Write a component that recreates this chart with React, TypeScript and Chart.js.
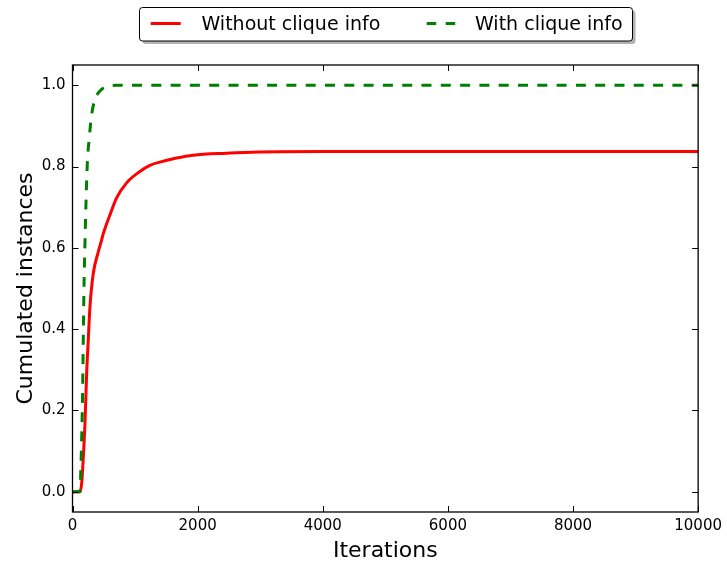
import React, { useEffect, useRef } from "react";
import { Chart, registerables } from "chart.js";

Chart.register(...registerables);

const FONT = '"DejaVu Sans", "Liberation Sans", sans-serif';

const xTicks = [0, 2000, 4000, 6000, 8000, 10000];
const yTicks = [0.0, 0.2, 0.4, 0.6, 0.8, 1.0];
const seriesNames = ["Without clique info", "With clique info"];
const xTitle = "Iterations";
const yTitle = "Cumulated instances";

const withoutIters = [0, 120, 146, 173, 199, 226, 252, 279, 332, 412, 466, 492, 598, 705, 865, 1077, 1237, 1396, 1662, 1928, 2460, 2992, 4000, 10000];
const withoutValues = [0, 0, 0.02, 0.085, 0.167, 0.29, 0.373, 0.455, 0.537, 0.59, 0.62, 0.635, 0.681, 0.723, 0.76, 0.788, 0.803, 0.811, 0.821, 0.828, 0.833, 0.836, 0.837, 0.837];

const withIters = [0, 120, 131, 146, 162, 172, 183, 199, 215, 236, 268, 306, 359, 439, 546, 705, 10000];
const withValues = [0, 0, 0.044, 0.126, 0.25, 0.373, 0.496, 0.61, 0.706, 0.805, 0.871, 0.928, 0.965, 0.986, 0.997, 1.0, 1.0];

const RED = "#ff0000";
const GREEN = "#008000";

const framePlugin = {
  id: "mplFrame",
  afterDatasetsDraw(chart: any) {
    const { ctx, chartArea: a, scales } = chart;
    ctx.save();
    ctx.strokeStyle = "#000";
    ctx.lineWidth = 1;
    ctx.setLineDash([]);
    // inward ticks on all sides
    for (const v of xTicks) {
      const px = Math.round(scales.x.getPixelForValue(v)) + 0.5;
      ctx.beginPath();
      ctx.moveTo(px, a.bottom);
      ctx.lineTo(px, a.bottom - 6);
      ctx.moveTo(px, a.top);
      ctx.lineTo(px, a.top + 6);
      ctx.stroke();
    }
    for (const v of yTicks) {
      const py = Math.round(scales.y.getPixelForValue(v)) + 0.5;
      ctx.beginPath();
      ctx.moveTo(a.left, py);
      ctx.lineTo(a.left + 6, py);
      ctx.moveTo(a.right, py);
      ctx.lineTo(a.right - 6, py);
      ctx.stroke();
    }
    // frame
    ctx.lineWidth = 1.3;
    ctx.strokeRect(a.left, a.top, a.right - a.left, a.bottom - a.top);

    // axis titles
    ctx.fillStyle = "#000";
    ctx.font = `22px ${FONT}`;
    ctx.textAlign = "center";
    ctx.textBaseline = "alphabetic";
    ctx.fillText(xTitle, (a.left + a.right) / 2, 557);
    ctx.save();
    ctx.translate(32, (a.top + a.bottom) / 2);
    ctx.rotate(-Math.PI / 2);
    ctx.fillText(yTitle, 0, 0);
    ctx.restore();

    // legend
    const bx = 139.5, by = 7.5, bw = 493, bh = 33.5;
    const r = 3;
    const roundRect = (x: number, y: number, w: number, h: number) => {
      ctx.beginPath();
      ctx.moveTo(x + r, y);
      ctx.lineTo(x + w - r, y);
      ctx.arcTo(x + w, y, x + w, y + r, r);
      ctx.lineTo(x + w, y + h - r);
      ctx.arcTo(x + w, y + h, x + w - r, y + h, r);
      ctx.lineTo(x + r, y + h);
      ctx.arcTo(x, y + h, x, y + h - r, r);
      ctx.lineTo(x, y + r);
      ctx.arcTo(x, y, x + r, y, r);
      ctx.closePath();
    };
    roundRect(bx + 3, by + 3, bw, bh);
    ctx.fillStyle = "rgba(128,128,128,0.6)";
    ctx.fill();
    roundRect(bx, by, bw, bh);
    ctx.fillStyle = "#fff";
    ctx.fill();
    ctx.lineWidth = 1;
    ctx.strokeStyle = "#000";
    ctx.stroke();

    // sample lines
    ctx.lineWidth = 3;
    ctx.lineCap = "butt";
    ctx.strokeStyle = RED;
    ctx.beginPath();
    ctx.moveTo(150.7, 23.5);
    ctx.lineTo(180.7, 23.5);
    ctx.stroke();
    ctx.strokeStyle = GREEN;
    ctx.setLineDash([9.5, 9.5]);
    ctx.beginPath();
    ctx.moveTo(426.7, 23.5);
    ctx.lineTo(455.2, 23.5);
    ctx.stroke();
    ctx.setLineDash([]);

    ctx.fillStyle = "#000";
    ctx.font = `19px ${FONT}`;
    ctx.textAlign = "left";
    ctx.textBaseline = "alphabetic";
    ctx.fillText(seriesNames[0], 201.5, 30);
    ctx.fillText(seriesNames[1], 475, 30);
    ctx.restore();
  },
};

export default function App() {
  const canvasRef = useRef<HTMLCanvasElement | null>(null);

  useEffect(() => {
    if (!canvasRef.current) return;
    const chart = new Chart(canvasRef.current, {
      type: "line",
      data: {
        datasets: [
          {
            label: seriesNames[0],
            data: withoutIters.map((x, i) => ({ x, y: withoutValues[i] })),
            borderColor: RED,
            backgroundColor: RED,
            borderWidth: 3,
            pointRadius: 0,
            fill: false,
            cubicInterpolationMode: "monotone",
            order: 1,
          },
          {
            label: seriesNames[1],
            data: withIters.map((x, i) => ({ x, y: withValues[i] })),
            borderColor: GREEN,
            backgroundColor: GREEN,
            borderWidth: 3,
            borderDash: [10, 9.3],
            borderCapStyle: "butt",
            pointRadius: 0,
            fill: false,
            cubicInterpolationMode: "monotone",
            order: 0,
          },
        ],
      },
      options: {
        animation: false,
        responsive: true,
        maintainAspectRatio: false,
        layout: { padding: { top: 65, right: 28, left: 0, bottom: 0 } },
        plugins: { legend: { display: false }, tooltip: { enabled: false } },
        scales: {
          x: {
            type: "linear",
            min: 0,
            max: 10000,
            grid: { display: false, drawTicks: false },
            border: { display: false },
            afterBuildTicks: (scale: any) => {
              scale.ticks = xTicks.map((v) => ({ value: v }));
            },
            afterFit: (scale: any) => {
              scale.height = 50;
            },
            ticks: {
              color: "#000",
              font: { family: FONT, size: 15 },
              padding: 5,
              maxRotation: 0,
              callback: (v: any) => String(v),
            },
          },
          y: {
            type: "linear",
            min: -0.05,
            max: 1.05,
            grid: { display: false, drawTicks: false },
            border: { display: false },
            afterBuildTicks: (scale: any) => {
              scale.ticks = yTicks.map((v) => ({ value: v }));
            },
            afterFit: (scale: any) => {
              scale.width = 72.5;
            },
            ticks: {
              color: "#000",
              font: { family: FONT, size: 15 },
              padding: 7,
              callback: (v: any) => Number(v).toFixed(1),
            },
          },
        },
      },
      plugins: [framePlugin],
    });
    return () => chart.destroy();
  }, []);

  return (
    <div style={{ position: "fixed", left: 0, top: 0, width: 727, height: 562, background: "#fff" }}>
      <canvas ref={canvasRef} />
    </div>
  );
}
